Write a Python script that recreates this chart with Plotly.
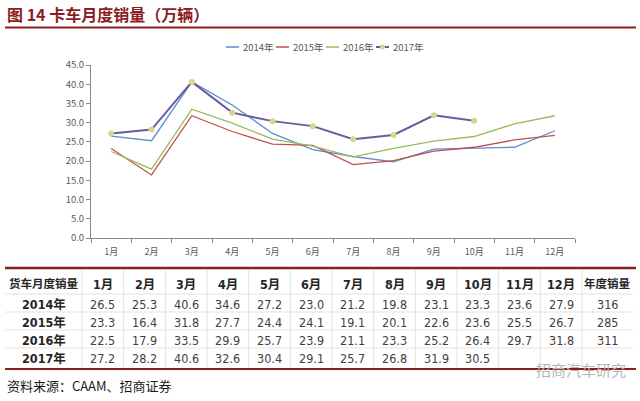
import plotly.graph_objects as go

months = ["1月", "2月", "3月", "4月", "5月", "6月", "7月", "8月", "9月", "10月", "11月", "12月"]
years = ["2014年", "2015年", "2016年", "2017年"]
s2014 = [26.5, 25.3, 40.6, 34.6, 27.2, 23.0, 21.2, 19.8, 23.1, 23.3, 23.6, 27.9]
s2015 = [23.3, 16.4, 31.8, 27.7, 24.4, 24.1, 19.1, 20.1, 22.6, 23.6, 25.5, 26.7]
s2016 = [22.5, 17.9, 33.5, 29.9, 25.7, 23.9, 21.1, 23.3, 25.2, 26.4, 29.7, 31.8]
s2017 = [27.2, 28.2, 40.6, 32.6, 30.4, 29.1, 25.7, 26.8, 31.9, 30.5]
annual = ["316", "285", "311", ""]
y_ticks = [0, 5, 10, 15, 20, 25, 30, 35, 40, 45]

W, H = 640, 401
L, R, T, B = 91, 65, 65, 163
PW, PH = W - L - R, H - T - B

def px(x):
    return (x - L) / PW

def py(y):
    return (H - B - y) / PH

CJK = "Noto Sans CJK SC"
NARROW = "DejaVu Sans Condensed, Liberation Sans Narrow, Noto Sans CJK SC"
DARKRED = "#8B1C1F"
colors = ["#5B8ED1", "#C0504D", "#9BBB59", "#6A5A9E"]
MARKER = "#D9D58F"

fig = go.Figure()
series = [s2014, s2015, s2016, s2017]
for name, vals, col in zip(years, series, colors):
    is17 = name == "2017年"
    fig.add_trace(go.Scatter(
        x=months[:len(vals)], y=vals, name=name,
        mode="lines+markers" if is17 else "lines",
        line=dict(color=col, width=2 if is17 else 1.3),
        marker=dict(color=MARKER, size=6, line=dict(width=0)),
        showlegend=False))

fig.update_layout(
    width=W, height=H,
    margin=dict(l=L, r=R, t=T, b=B),
    paper_bgcolor="white", plot_bgcolor="white",
    font=dict(family=CJK, size=10, color="#595959"),
    showlegend=False,
    xaxis=dict(type="category", range=[-0.5, 11.5], tickson="boundaries", ticks="outside",
               ticklen=4, tickcolor="#898989", showline=True, linecolor="#898989",
               ticklabelstandoff=5,
               showgrid=False, zeroline=False, tickfont=dict(size=9, color="#595959")),
    yaxis=dict(range=[0, 45], tickvals=y_ticks, tickformat=".1f", ticks="outside",
               ticklen=4, tickcolor="#898989", showline=True, linecolor="#898989",
               showgrid=False, zeroline=False, tickfont=dict(size=9.5, color="#595959")),
)

shapes = []
annotations = []

# custom compact legend
leg_y = 47
leg_x0 = 226
pitch = 50
for i, (name, col) in enumerate(zip(years, colors)):
    x0 = leg_x0 + i * pitch
    shapes.append(dict(type="line", xref="paper", yref="paper", x0=px(x0), x1=px(x0 + 13),
                       y0=py(leg_y), y1=py(leg_y),
                       line=dict(color=col, width=2 if name == "2017年" else 1.5)))
    if name == "2017年":
        shapes.append(dict(type="circle", xref="paper", yref="paper",
                           x0=px(x0 + 4), x1=px(x0 + 9), y0=py(leg_y - 2.5), y1=py(leg_y + 2.5),
                           fillcolor=MARKER, line=dict(width=0)))
    annotations.append(dict(xref="paper", yref="paper", x=px(x0 + 15), y=py(leg_y), xanchor="left",
                            yanchor="middle", text=name, showarrow=False,
                            font=dict(family=CJK, size=9.5, color="#595959")))

# title
annotations.append(dict(xref="paper", yref="paper", x=px(5), y=py(14), xanchor="left", yanchor="middle",
                        text="<b>图 14 卡车月度销量（万辆）</b>", showarrow=False,
                        font=dict(family=CJK, size=16, color=DARKRED)))
shapes.append(dict(type="line", xref="paper", yref="paper", x0=px(5), x1=px(636), y0=py(27.5), y1=py(27.5),
                   line=dict(color=DARKRED, width=2)))

# table
col_bounds = [5, 82] + [82 + (i + 1) * 500 / 12 for i in range(12)] + [633]
top, header_bot, row_h = 268, 294, 18
row_bounds = [top, header_bot] + [header_bot + row_h * (i + 1) for i in range(len(years))]
shapes.append(dict(type="line", xref="paper", yref="paper", x0=px(5), x1=px(636), y0=py(top), y1=py(top),
                   line=dict(color=DARKRED, width=2.5)))
shapes.append(dict(type="line", xref="paper", yref="paper", x0=px(5), x1=px(636), y0=py(369), y1=py(369),
                   line=dict(color=DARKRED, width=2)))
for yb in row_bounds[1:-1]:
    shapes.append(dict(type="line", xref="paper", yref="paper", x0=px(5), x1=px(633), y0=py(yb), y1=py(yb),
                       line=dict(color="#E2E2E2", width=1)))
for xb in col_bounds[1:-1]:
    shapes.append(dict(type="line", xref="paper", yref="paper", x0=px(xb), x1=px(xb), y0=py(top + 2), y1=py(368),
                       line=dict(color="#E2E2E2", width=1)))

header = ["货车月度销量"] + months + ["年度销量"]
centers = [(col_bounds[i] + col_bounds[i + 1]) / 2 for i in range(len(col_bounds) - 1)]
for i, (c, txt) in enumerate(zip(centers, header)):
    size = 11.5 if i in (0, len(header) - 1) else 12.5
    annotations.append(dict(xref="paper", yref="paper", x=px(c), y=py(284), xanchor="center", yanchor="middle",
                            text="<b>" + txt + "</b>", showarrow=False,
                            font=dict(family=NARROW, size=size, color="#262626")))

for r, (yr, vals, tot) in enumerate(zip(years, series, annual)):
    yc = header_bot + row_h * r + row_h / 2 + 1
    annotations.append(dict(xref="paper", yref="paper", x=px(centers[0]), y=py(yc), xanchor="center",
                            yanchor="middle", text="<b>" + yr + "</b>", showarrow=False,
                            font=dict(family=NARROW, size=12.5, color="#262626")))
    for i, v in enumerate(vals):
        annotations.append(dict(xref="paper", yref="paper", x=px(centers[i + 1]), y=py(yc), xanchor="center",
                                yanchor="middle", text=f"{v:.1f}", showarrow=False,
                                font=dict(family=NARROW, size=12.5, color="#404040")))
    if tot:
        annotations.append(dict(xref="paper", yref="paper", x=px(centers[-1]), y=py(yc), xanchor="center",
                                yanchor="middle", text=tot, showarrow=False,
                                font=dict(family=NARROW, size=12.5, color="#404040")))

# source
annotations.append(dict(xref="paper", yref="paper", x=px(5), y=py(385), xanchor="left", yanchor="middle",
                        text="资料来源：CAAM、招商证券", showarrow=False,
                        font=dict(family=CJK, size=13, color="#1a1a1a")))
# watermark
annotations.append(dict(xref="paper", yref="paper", x=px(628), y=py(369), xanchor="right", yanchor="middle",
                        text="招商汽车研究", showarrow=False,
                        font=dict(family=CJK, size=15, color="#B5B5B5")))

fig.update_layout(shapes=shapes, annotations=annotations)
fig.write_html("out.html", config={"displayModeBar": False},
               post_script="document.body.style.margin='0';document.body.style.padding='0';")
